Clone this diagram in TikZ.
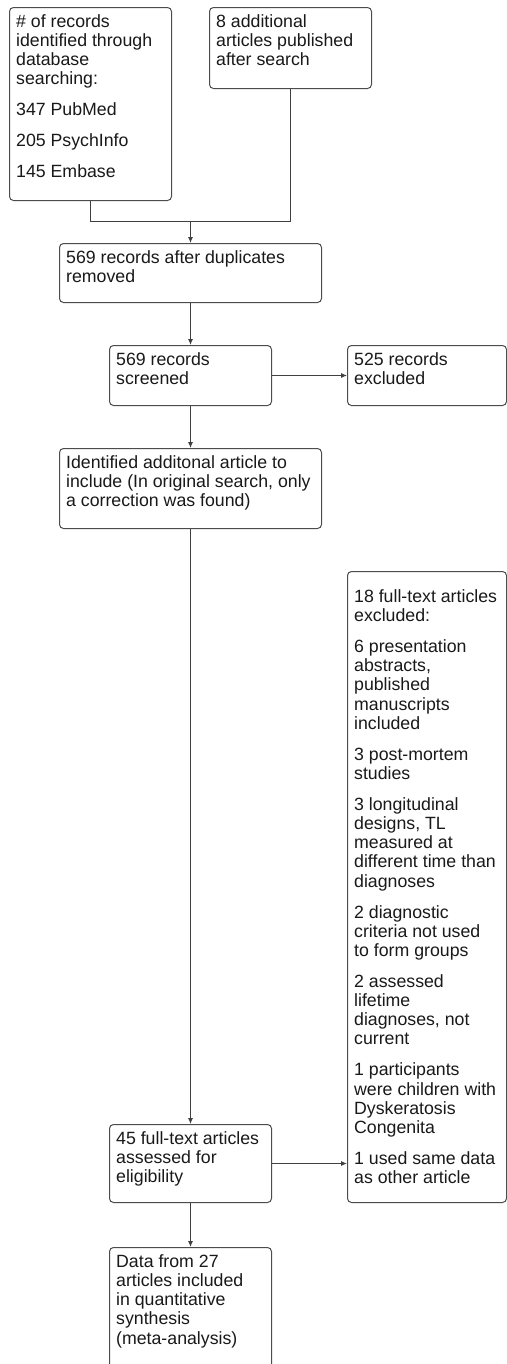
\documentclass[tikz,border=0pt]{standalone}
\usepackage{fontspec}
\setmainfont{Liberation Sans}
\usetikzlibrary{arrows.meta}
\tikzset{
  bx/.style={draw=black!70, line width=0.75pt, rounded corners=3pt,
    inner xsep=5pt, inner ysep=4.8pt, anchor=north west,
    font=\fontsize{13.3}{14.4}\selectfont, text=black!90},
  conn/.style={draw=black!75, line width=0.75pt},
  arr/.style={conn, -{Latex[length=4.5pt,width=3.8pt]}}
}
% [extra top] name x y w h text   (pixel units)
\newcommand\fbx[7][0pt]{%
  \node[bx] (#2) at (#3,#4) {\begin{minipage}[t][\dimexpr #6pt*3/4-9.6pt\relax][t]{\dimexpr #5pt*3/4-10pt\relax}\raggedright\setlength\parskip{8.8pt}\rule{0pt}{\dimexpr 10.08pt+#1\relax}#7\end{minipage}};}
\begin{document}
\begin{tikzpicture}[x=0.75pt,y=-0.75pt]
\clip (0,0) rectangle (507,1364);
\fill[white] (0,0) rectangle (507,1364);
\fbx{b1}{9}{7}{162}{193}{\# of records\\identified through\\database\\searching:\par 347 PubMed\par 205 PsychInfo\par 145 Embase}
\fbx{b2}{209}{7}{162}{81}{8 additional\\articles published\\after search}
\fbx{b3}{59}{243}{262}{59}{569 records after duplicates\\removed}
\fbx{b4}{109}{345}{162}{60}{569 records\\screened}
\fbx{b5}{347}{345}{159}{60}{525 records\\excluded}
\fbx{b6}{59}{448}{262}{80}{Identified additonal article to\\include (In original search, only\\a correction was found)}
\fbx[8.2pt]{b7}{347}{571}{159}{631}{18 full-text articles\\excluded:\par 6 presentation\\abstracts,\\published\\manuscripts\\included\par 3 post-mortem\\studies\par 3 longitudinal\\designs, TL\\measured at\\different time than\\diagnoses\par 2 diagnostic\\criteria not used\\to form groups\par 2 assessed\\lifetime\\diagnoses, not\\current\par 1 participants\\were children with\\Dyskeratosis\\Congenita\par 1 used same data\\as other article}
\fbx{b8}{109}{1124}{162}{78}{45 full-text articles\\assessed for\\eligibility}
\fbx{b9}{109}{1247}{162}{140}{Data from 27\\articles included\\in quantitative\\synthesis\\(meta-analysis)}
\coordinate (m) at (b3.north |- 0,221);
\draw[conn] (b1.south) |- (m);
\draw[conn] (b2.south) |- (m);
\draw[arr] (m) -- (b3.north);
\draw[arr] (b3.south) -- (b4.north);
\draw[arr] (b4.east) -- (b5.west);
\draw[arr] (b4.south) -- (b6.north);
\draw[arr] (b6.south) -- (b8.north);
\draw[arr] (b8.east) -- (b8.east -| b7.west);
\draw[arr] (b8.south) -- (b9.north);
\end{tikzpicture}
\end{document}
